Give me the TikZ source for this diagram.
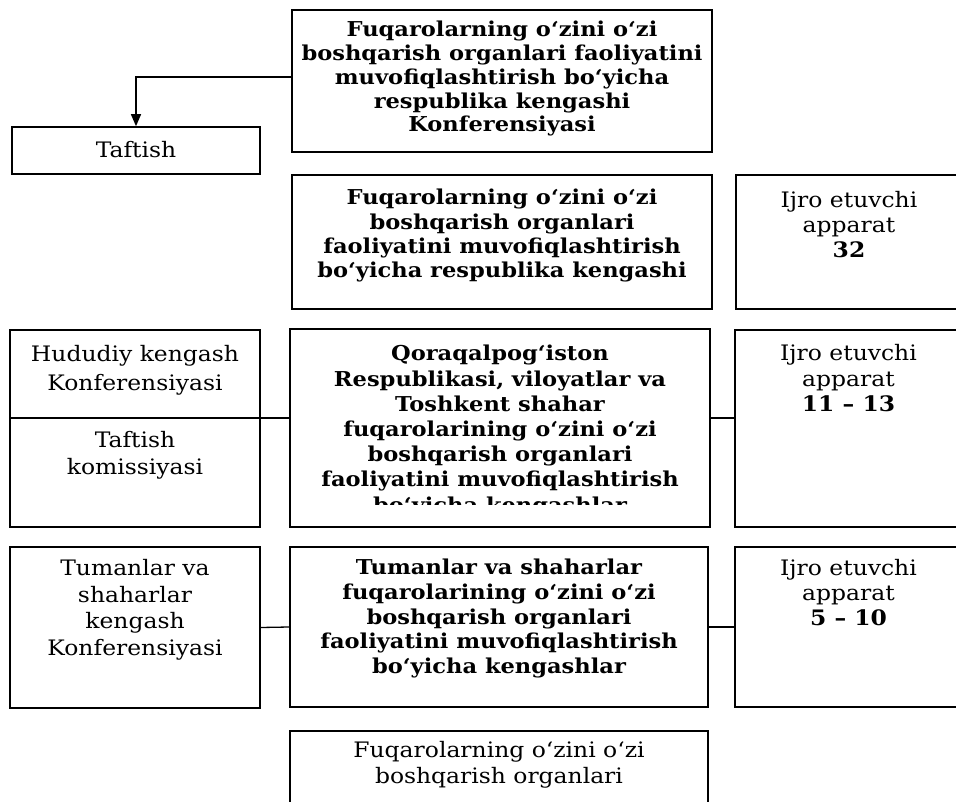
\documentclass[tikz,border=0pt]{standalone}
\usepackage{fontspec}
\setmainfont[FakeStretch=1.1]{DejaVu Serif}
\usetikzlibrary{arrows.meta}
\tikzset{
  box/.style={draw, line width=1.6pt, inner sep=0pt},
  txt/.style={anchor=north, inner sep=0pt, align=center, font=\fontsize{21.3}{27}\selectfont},
  btxt/.style={anchor=north, inner sep=0pt, align=center, font=\fontsize{20.5}{24.3}\selectfont\bfseries},
  link/.style={line width=1.3pt},
}

\begin{document}
\begin{tikzpicture}[x=1pt, y=-1pt]
  \useasboundingbox (0,0) rectangle (956,802);

  \node[box, minimum width=420pt, minimum height=142pt] (konf) at (502,81) {};
  \node[box, minimum width=248pt, minimum height=47pt] (taftish) at (136,150.5) {};
  \node[box, minimum width=420pt, minimum height=134pt] (kengash) at (502,242) {};
  \node[box, minimum width=234pt, minimum height=134pt] (ijroA) at (853,242) {};

  \node[box, minimum width=250pt, minimum height=197pt] (hududiy) at (135,428.5) {};
  \node[box, minimum width=420pt, minimum height=198pt] (viloyat) at (500,428) {};
  \node[box, minimum width=235pt, minimum height=197pt] (ijroB) at (852.5,428.5) {};
  \coordinate (hdiv) at (260,418);

  \node[box, minimum width=250pt, minimum height=161pt] (tumanKonf) at (135,627.5) {};
  \node[box, minimum width=418pt, minimum height=160pt] (tuman) at (499,627) {};
  \node[box, minimum width=235pt, minimum height=160pt] (ijroC) at (852.5,627) {};

  \node[box, minimum width=418pt, minimum height=100pt] (fuqaro) at (499,781) {};

  \node[btxt, font=\fontsize{20.5}{23.7}\selectfont\bfseries] (konf-t) at ([yshift=-12pt]konf.north) {Fuqarolarning o‘zini o‘zi\\boshqarish organlari faoliyatini\\muvofiqlashtirish bo‘yicha\\respublika kengashi\\Konferensiyasi};
  \node[txt] (taftish-t) at ([yshift=-15pt]taftish.north) {Taftish};
  \node[btxt] (kengash-t) at ([yshift=-15pt]kengash.north) {Fuqarolarning o‘zini o‘zi\\boshqarish organlari\\faoliyatini muvofiqlashtirish\\bo‘yicha respublika kengashi};
  \node[txt, font=\fontsize{21.3}{25}\selectfont] (ijroA-t) at ([xshift=-4pt,yshift=-17pt]ijroA.north) {Ijro etuvchi\\apparat\\\textbf{32}};

  \node[txt, font=\fontsize{21.3}{28.5}\selectfont] (hududiy-t) at ([yshift=-16pt]hududiy.north) {Hududiy kengash\\Konferensiyasi};
  \node[txt] (taftkom-t) at ([yshift=-102pt]hududiy.north) {Taftish\\komissiyasi};
  \begin{scope}
    \clip (viloyat.north west) rectangle (viloyat.east |- 0,504);
    \node[btxt, font=\fontsize{20.5}{25.2}\selectfont\bfseries] (viloyat-t) at ([yshift=-17pt]viloyat.north) {Qoraqalpog‘iston\\Respublikasi, viloyatlar va\\Toshkent shahar\\fuqarolarining o‘zini o‘zi\\boshqarish organlari\\faoliyatini muvofiqlashtirish\\bo‘yicha kengashlar};
  \end{scope}
  \node[txt, font=\fontsize{21.3}{25.5}\selectfont] (ijroB-t) at ([xshift=-4pt,yshift=-15pt]ijroB.north) {Ijro etuvchi\\apparat\\\textbf{11 – 13}};

  \node[txt, font=\fontsize{21.3}{26.7}\selectfont] (tumanKonf-t) at ([yshift=-13pt]tumanKonf.north) {Tumanlar va\\shaharlar\\kengash\\Konferensiyasi};
  \node[btxt, font=\fontsize{20.5}{24.6}\selectfont\bfseries] (tuman-t) at ([yshift=-13pt]tuman.north) {Tumanlar va shaharlar\\fuqarolarining o‘zini o‘zi\\boshqarish organlari\\faoliyatini muvofiqlashtirish\\bo‘yicha kengashlar};
  \node[txt, font=\fontsize{21.3}{25}\selectfont] (ijroC-t) at ([xshift=-4pt,yshift=-13pt]ijroC.north) {Ijro etuvchi\\apparat\\\textbf{5 – 10}};

  \node[txt, font=\fontsize{21.3}{26}\selectfont] (fuqaro-t) at ([yshift=-11pt]fuqaro.north) {Fuqarolarning o‘zini o‘zi\\boshqarish organlari};

  \draw[link, -{Triangle[length=12pt,width=10pt]}] ([yshift=4pt]konf.west) -| (taftish.north);
  \draw[link] (hududiy.west |- hdiv) -- (hdiv) -- (viloyat.west |- hdiv);
  \draw[link] (viloyat.east |- hdiv) -- (ijroB.west |- hdiv);
  \draw[link] (tumanKonf.east) -- (tuman.west);
  \draw[link] (tuman.east) -- (ijroC.west);
\end{tikzpicture}
\end{document}
